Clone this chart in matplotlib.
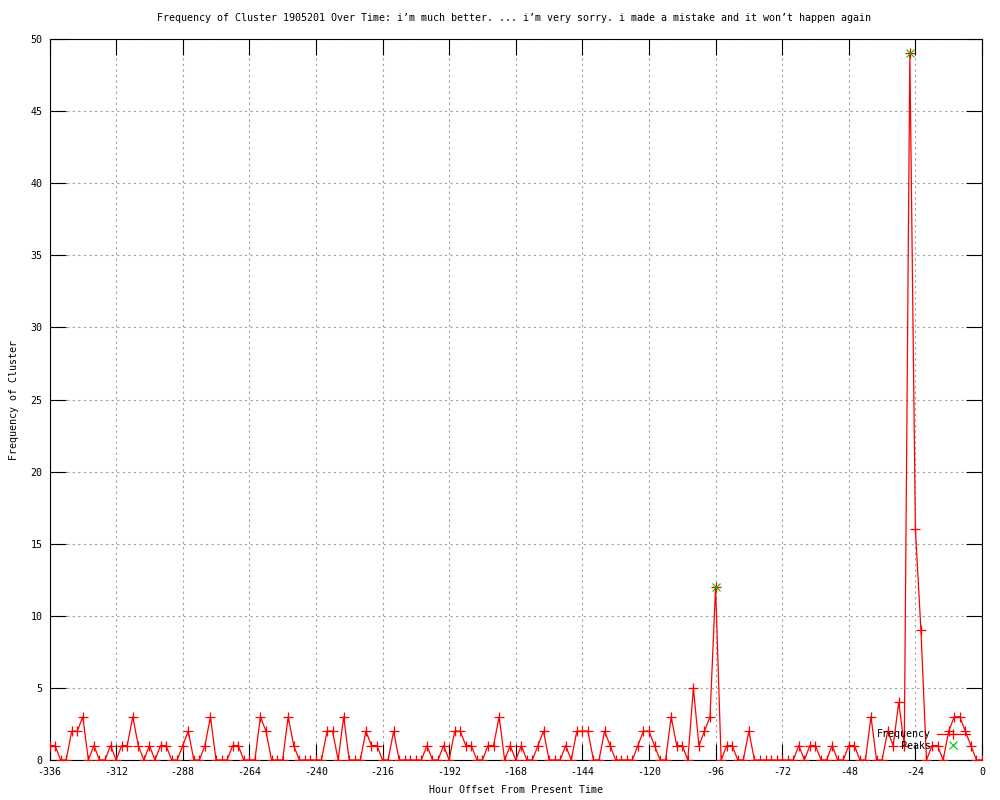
import numpy as np
import matplotlib
matplotlib.use("Agg")
import matplotlib.pyplot as plt

# 2-hour bins, hour offset from present time
hours = np.arange(-336, 1, 2)
counts = [
    1, 1, 0, 0, 2, 2, 3, 0, 1, 0, 0, 1, 0, 1, 1, 3, 1, 0, 1, 0,
    1, 1, 0, 0, 1, 2, 0, 0, 1, 3, 0, 0, 0, 1, 1, 0, 0, 0, 3, 2,
    0, 0, 0, 3, 1, 0, 0, 0, 0, 0, 2, 2, 0, 3, 0, 0, 0, 2, 1, 1,
    0, 0, 2, 0, 0, 0, 0, 0, 1, 0, 0, 1, 0, 2, 2, 1, 1, 0, 0, 1,
    1, 3, 0, 1, 0, 1, 0, 0, 1, 2, 0, 0, 0, 1, 0, 2, 2, 2, 0, 0,
    2, 1, 0, 0, 0, 0, 1, 2, 2, 1, 0, 0, 3, 1, 1, 0, 5, 1, 2, 3,
    12, 0, 1, 1, 0, 0, 2, 0, 0, 0, 0, 0, 0, 0, 0, 1, 0, 1, 1, 0,
    0, 1, 0, 0, 1, 1, 0, 0, 3, 0, 0, 2, 1, 4, 1, 49, 16, 9, 0, 1,
    1, 0, 2, 3, 3, 2, 1, 0, 0,
]
peak_hours = [-96, -26]
peak_counts = [12, 49]

title = ("Frequency of Cluster 1905201 Over Time: i\u2019m much better. ... "
         "i\u2019m very sorry. i made a mistake and it won\u2019t happen again")

plt.rcParams["font.family"] = ["DejaVu Sans Mono"]
plt.rcParams["font.size"] = 7.2
plt.rcParams["axes.unicode_minus"] = False

fig = plt.figure(figsize=(10, 8), dpi=100)
ax = fig.add_axes([0.0495, 0.05, 0.9325, 0.90125])

ax.plot(hours, counts, color="#ff0000", lw=0.9, marker="+", ms=7.5, mew=0.9,
        label="Frequency", zorder=3)
ax.plot(peak_hours, peak_counts, linestyle="none", color="#00c000", marker="x",
        ms=5.5, mew=0.8, label="    Peaks", zorder=4)

ax.set_xlim(-336, 0)
ax.set_ylim(0, 50)
ax.set_xticks(np.arange(-336, 1, 24))
ax.set_yticks(np.arange(0, 51, 5))
ax.tick_params(direction="in", top=True, right=True, length=11.5, width=0.8,
               labelsize=7.2, color="black")
ax.tick_params(axis="y", pad=5)
ax.tick_params(axis="x", pad=5)
ax.grid(True, color="#a0a0a0", lw=0.8, linestyle=(0, (2, 3)))
for s in ax.spines.values():
    s.set_linewidth(0.8)

ax.set_xlabel("Hour Offset From Present Time", labelpad=6)
ax.set_ylabel("Frequency of Cluster", labelpad=8)
fig.text(0.514, 1 - 18 / 800, title, ha="center", va="center", fontsize=7.2)

leg = ax.legend(loc="lower right", bbox_to_anchor=(0.987, 0.013), frameon=False,
                markerfirst=False, handlelength=3.3, handletextpad=0.6,
                labelspacing=0.15, borderpad=0, borderaxespad=0, fontsize=7.2)

fig.savefig("out.png", dpi=100)
